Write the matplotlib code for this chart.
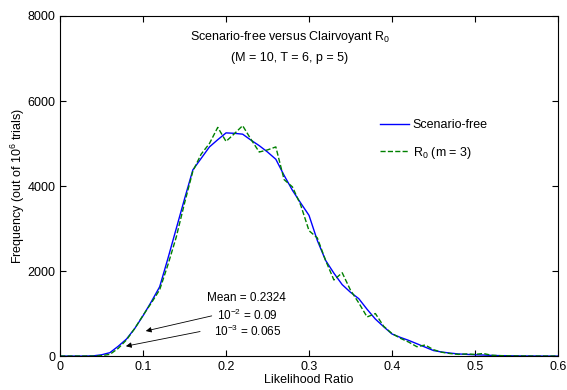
import numpy as np
import matplotlib
matplotlib.use('Agg')
import matplotlib.pyplot as plt

plt.rcParams['font.family'] = ['Liberation Sans', 'DejaVu Sans']
plt.rcParams['mathtext.fontset'] = 'custom'
plt.rcParams['mathtext.rm'] = 'Liberation Sans'
plt.rcParams['mathtext.default'] = 'regular'

# likelihood ratio bins (0 to 0.6 in steps of 0.01)
ratio = np.round(np.arange(0, 0.601, 0.01), 2)

# scenario-free frequencies
scen_free = [0, 0, 0, 0, 5, 30, 80, 230, 400, 650,
             950, 1280, 1630, 2300, 3000, 3700, 4380, 4650, 4920, 5090,
             5250, 5240, 5220, 5080, 4950, 4800, 4630, 4250, 3900, 3600,
             3310, 2720, 2250, 1950, 1680, 1500, 1350, 1100, 870, 690,
             520, 440, 370, 290, 210, 130, 95, 70, 50, 40,
             30, 25, 15, 10, 8, 5, 3, 2, 1, 0, 0]

# clairvoyant R0 (m = 3) frequencies
r0_m3 = [0, 0, 0, 0, 0, 10, 40, 180, 380, 650,
         960, 1250, 1560, 2150, 2800, 3600, 4350, 4750, 5000, 5380,
         5050, 5230, 5420, 5100, 4800, 4850, 4920, 4150, 3980, 3550,
         2950, 2780, 2250, 1790, 1960, 1550, 1250, 920, 1000, 700,
         530, 420, 330, 220, 260, 150, 90, 60, 40, 50,
         40, 60, 20, 10, 5, 3, 2, 0, 0, 0, 0]

fig = plt.figure(figsize=(5.67, 3.9), dpi=100)
ax = fig.add_axes([0.106, 0.087, 0.878, 0.872])

ax.plot(ratio, scen_free, '-', color='#0000ff', lw=1.0, label='Scenario-free')
ax.plot(ratio, r0_m3, '--', color='#008000', lw=1.0, label='R$_0$ (m = 3)')

ax.set_xlim(0, 0.6)
ax.set_ylim(0, 8000)
ax.set_xticks(np.arange(0, 0.61, 0.1))
ax.set_xticklabels(['0', '0.1', '0.2', '0.3', '0.4', '0.5', '0.6'])
ax.set_yticks(np.arange(0, 8001, 2000))
ax.tick_params(direction='in', top=True, right=True, labelsize=9, length=4)
ax.set_xlabel('Likelihood Ratio', fontsize=9, labelpad=1)
ax.set_ylabel('Frequency (out of 10$^6$ trials)', fontsize=9, labelpad=0)

ax.text(0.277, 7500, 'Scenario-free versus Clairvoyant R$_0$', ha='center', va='center', fontsize=9)
ax.text(0.277, 7000, '(M = 10, T = 6, p = 5)', ha='center', va='center', fontsize=9)

ax.legend(loc='upper left', bbox_to_anchor=(0.62, 0.73), frameon=False, fontsize=9,
          handlelength=2.3, labelspacing=1.1, handletextpad=0.3)

# annotation for mean and tail quantiles
ax.text(0.225, 1360, 'Mean = 0.2324', ha='center', va='center', fontsize=8.5)
ax.text(0.226, 965, '10$^{-2}$ = 0.09', ha='center', va='center', fontsize=8.5)
ax.text(0.2255, 590, '10$^{-3}$ = 0.065', ha='center', va='center', fontsize=8.5)
ax.annotate('', xy=(0.1, 575), xytext=(0.186, 960),
            arrowprops=dict(arrowstyle='-|>', color='black', lw=0.6, mutation_scale=8))
ax.annotate('', xy=(0.076, 220), xytext=(0.172, 590),
            arrowprops=dict(arrowstyle='-|>', color='black', lw=0.6, mutation_scale=8))

fig.savefig('out.png', dpi=100)
